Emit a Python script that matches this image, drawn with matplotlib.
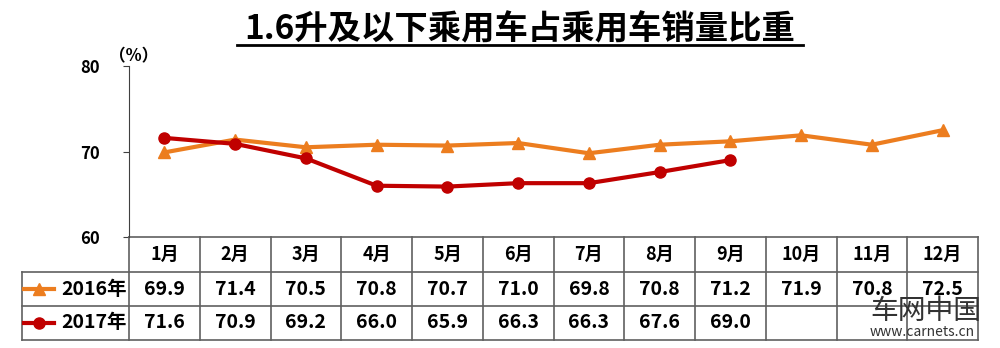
import numpy as np
import matplotlib
matplotlib.use('Agg')
import matplotlib.pyplot as plt

plt.rcParams['font.family'] = ['Noto Sans CJK SC', 'DejaVu Sans']

months = ['1月', '2月', '3月', '4月', '5月', '6月', '7月', '8月', '9月', '10月', '11月', '12月']
share2016 = [69.9, 71.4, 70.5, 70.8, 70.7, 71.0, 69.8, 70.8, 71.2, 71.9, 70.8, 72.5]
share2017 = [71.6, 70.9, 69.2, 66.0, 65.9, 66.3, 66.3, 67.6, 69.0]
yticks = [60, 70, 80]

c16 = '#EC7D1F'
c17 = '#C00000'
gridc = '#606060'

fig = plt.figure(figsize=(10, 3.48), dpi=100)
ax = fig.add_axes([0.129, 0.319, 0.849, 0.491])

x16 = np.arange(len(share2016)) + 0.5
x17 = np.arange(len(share2017)) + 0.5
ax.plot(x16, share2016, color=c16, lw=3, marker='^', ms=8, zorder=3)
ax.plot(x17, share2017, color=c17, lw=3, marker='o', ms=8, zorder=4)

ax.set_xlim(0, 12)
ax.set_ylim(60, 80)
ax.set_yticks(yticks)
ax.set_yticklabels([str(v) for v in yticks], fontsize=12, fontweight='bold')
ax.tick_params(axis='y', length=4, pad=17, color='#404040')
ax.set_xticks([])
for s in ['top', 'right', 'bottom']:
    ax.spines[s].set_visible(False)
ax.spines['left'].set_color('#404040')
ax.text(0.005, 1.06, '（%）', transform=ax.transAxes, fontsize=12, fontweight='bold', ha='center', va='center')

# table below the plot, x in data units, y in axes units
tr = ax.get_xaxis_transform()
r0, r1, r2, r3 = 0.0, -0.205, -0.404, -0.602
xl = -1.51
kw = dict(transform=tr, clip_on=False, color=gridc, lw=1.2)
ax.plot([0, 12], [r0, r0], **kw)
for r in [r1, r2, r3]:
    ax.plot([xl, 12], [r, r], **kw)
for i in range(13):
    ax.plot([i, i], [r0, r3], **kw)
ax.plot([xl, xl], [r1, r3], **kw)

def mid(a, b):
    return (a + b) / 2

for i, m in enumerate(months):
    ax.text(i + 0.5, mid(r0, r1), m, transform=tr, ha='center', va='center', fontsize=13, fontweight='bold')
for i, v in enumerate(share2016):
    ax.text(i + 0.5, mid(r1, r2), f'{v:.1f}', transform=tr, ha='center', va='center', fontsize=14, fontweight='bold')
for i, v in enumerate(share2017):
    ax.text(i + 0.5, mid(r2, r3), f'{v:.1f}', transform=tr, ha='center', va='center', fontsize=14, fontweight='bold')

# legend keys in the table
ax.plot([-1.48, -1.06], [mid(r1, r2)] * 2, transform=tr, clip_on=False, color=c16, lw=3)
ax.plot([-1.27], [mid(r1, r2)], transform=tr, clip_on=False, color=c16, marker='^', ms=8)
ax.plot([-1.48, -1.06], [mid(r2, r3)] * 2, transform=tr, clip_on=False, color=c17, lw=3)
ax.plot([-1.27], [mid(r2, r3)], transform=tr, clip_on=False, color=c17, marker='o', ms=8)
ax.text(-0.03, mid(r1, r2), '2016年', transform=tr, ha='right', va='center', fontsize=14, fontweight='bold')
ax.text(-0.03, mid(r2, r3), '2017年', transform=tr, ha='right', va='center', fontsize=14, fontweight='bold')

# title with underline
fig.text(0.52, 0.915, '1.6升及以下乘用车占乘用车销量比重', ha='center', va='center', fontsize=24, fontweight='bold')
fig.add_artist(plt.Line2D([0.237, 0.803], [0.872, 0.872], transform=fig.transFigure, color='black', lw=2))

# watermark
fig.text(0.87, 0.105, '车网中国', fontsize=20, color='#333333', ha='left', va='center')
fig.text(0.87, 0.045, 'www.carnets.cn', fontsize=10, color='#333333', ha='left', va='center')

fig.savefig('out.png', dpi=100, facecolor='white')
